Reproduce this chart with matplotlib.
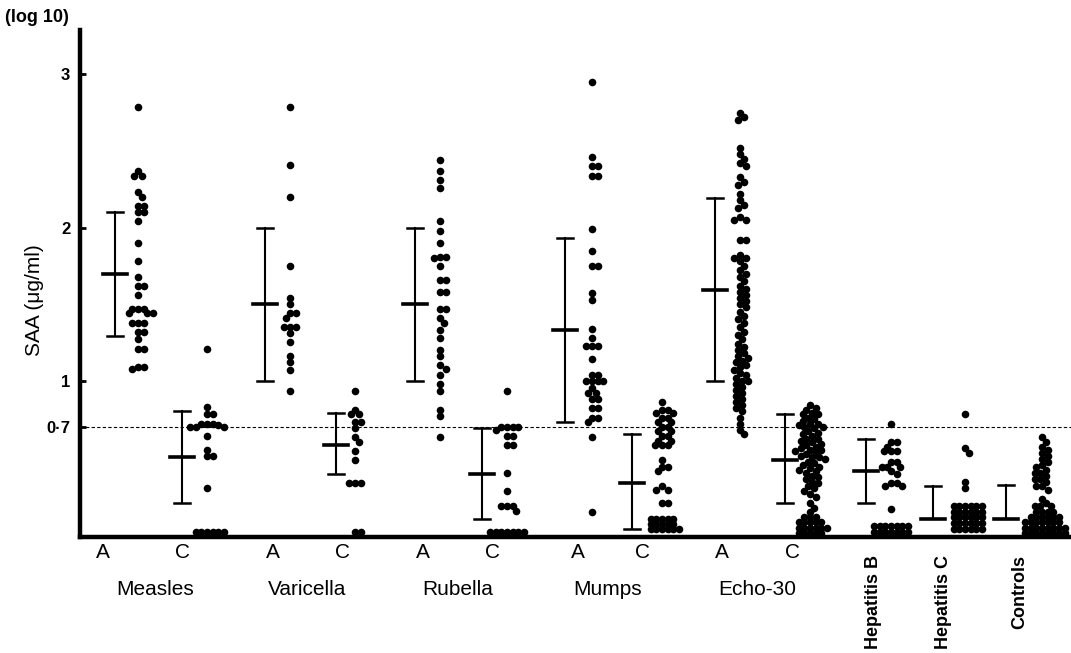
import matplotlib
matplotlib.use("Agg")
import matplotlib.pyplot as plt

# valores log10 de SAA (0.015 = bajo el limite de deteccion)
measles_a = [2.79, 2.37, 2.34, 2.34, 2.23, 2.20, 2.14, 2.14, 2.10, 2.10, 2.04, 1.90, 1.78, 1.68,
             1.62, 1.62, 1.56, 1.47, 1.47, 1.47, 1.44, 1.44, 1.44, 1.38, 1.38, 1.38, 1.32, 1.32,
             1.27, 1.21, 1.21, 1.09, 1.09, 1.08]
measles_c = [1.21, 0.83, 0.78, 0.78, 0.72, 0.72, 0.72, 0.71, 0.70, 0.70, 0.70, 0.64, 0.55, 0.51,
             0.51, 0.30] + [0.015] * 6
varicella_a = [2.79, 2.41, 2.20, 1.75, 1.54, 1.50, 1.44, 1.44, 1.41, 1.35, 1.35, 1.35, 1.31, 1.25,
               1.16, 1.12, 1.07, 0.93]
varicella_c = [0.93, 0.81, 0.78, 0.78, 0.73, 0.73, 0.69, 0.63, 0.60, 0.54, 0.48, 0.33, 0.33, 0.33,
               0.015, 0.015]
rubella_a = [2.44, 2.37, 2.31, 2.26, 2.04, 1.98, 1.90, 1.81, 1.81, 1.80, 1.75, 1.66, 1.66, 1.58,
             1.58, 1.47, 1.47, 1.41, 1.38, 1.33, 1.28, 1.20, 1.16, 1.10, 1.08, 1.04, 0.98, 0.93,
             0.81, 0.77, 0.63]
rubella_c = [0.93, 0.70, 0.70, 0.70, 0.70, 0.68, 0.64, 0.64, 0.58, 0.58, 0.40, 0.28, 0.18, 0.18,
             0.18, 0.15] + [0.015] * 7
mumps_a = [2.95, 2.46, 2.40, 2.40, 2.34, 2.34, 1.99, 1.85, 1.75, 1.75, 1.57, 1.53, 1.34, 1.28,
           1.23, 1.23, 1.23, 1.14, 1.04, 1.04, 1.00, 1.00, 1.00, 1.00, 0.95, 0.92, 0.92, 0.88,
           0.88, 0.82, 0.82, 0.76, 0.76, 0.73, 0.63, 0.14]
mumps_c = [0.86, 0.81, 0.81, 0.79, 0.79, 0.76, 0.76, 0.73, 0.73, 0.70, 0.70, 0.67, 0.67, 0.64,
           0.64, 0.61, 0.61, 0.58, 0.58, 0.58, 0.48, 0.44, 0.44, 0.41, 0.31, 0.29, 0.29, 0.20,
           0.20] + [0.10] * 5 + [0.065] * 5 + [0.03] * 6
echo_a = [2.75, 2.72, 2.70, 2.52, 2.48, 2.45, 2.42, 2.40, 2.33, 2.30, 2.28, 2.22, 2.18, 2.15,
          2.13, 2.07, 2.05, 2.05, 1.92, 1.92, 1.82, 1.80, 1.80, 1.78, 1.75, 1.72, 1.70, 1.68,
          1.65, 1.62, 1.60, 1.58, 1.56, 1.54, 1.52, 1.50, 1.48, 1.45, 1.42, 1.40, 1.38, 1.35,
          1.32, 1.30, 1.27, 1.24, 1.22, 1.20, 1.18, 1.16, 1.15, 1.13, 1.12, 1.10, 1.09, 1.07,
          1.05, 1.04, 1.02, 1.00, 1.00, 0.98, 0.96, 0.94, 0.92, 0.90, 0.88, 0.86, 0.84, 0.82,
          0.80, 0.76, 0.72, 0.68, 0.65]
echo_c = [0.84, 0.82, 0.81, 0.79, 0.78, 0.78, 0.76, 0.75, 0.74, 0.72, 0.72, 0.71, 0.70, 0.70,
          0.69, 0.67, 0.66, 0.65, 0.64, 0.62, 0.62, 0.61, 0.60, 0.59, 0.58, 0.57, 0.56, 0.55,
          0.55, 0.54, 0.53, 0.52, 0.51, 0.50, 0.50, 0.49, 0.47, 0.46, 0.45, 0.44, 0.43, 0.42,
          0.41, 0.40, 0.38, 0.37, 0.36, 0.34, 0.33, 0.31, 0.30, 0.28, 0.26, 0.24, 0.20, 0.17,
          0.145] + [0.11] * 3 + [0.075] * 5 + [0.04] * 6 + [0.005] * 5
hep_b = [0.72, 0.60, 0.60, 0.57, 0.54, 0.54, 0.54, 0.47, 0.47, 0.44, 0.44, 0.44, 0.41, 0.39,
         0.33, 0.33, 0.31, 0.31, 0.16] + [0.05] * 7 + [0.015] * 7
hep_c = [0.78, 0.56, 0.53, 0.34, 0.30] + [0.18] * 6 + [0.145] * 6 + [0.11] * 6 + [0.07] * 6 + [0.035] * 6
controls = [0.63, 0.60, 0.57, 0.55, 0.53, 0.51, 0.49, 0.47, 0.45, 0.44, 0.42, 0.40, 0.40, 0.38,
            0.36, 0.36, 0.34, 0.31, 0.31, 0.29, 0.23, 0.20] + [0.18] * 3 + [0.145] * 4 + \
           [0.11] * 6 + [0.075] * 7 + [0.04] * 8 + [0.005] * 8

grupos = [measles_a, measles_c, varicella_a, varicella_c, rubella_a, rubella_c,
          mumps_a, mumps_c, echo_a, echo_c, hep_b, hep_c, controls]

# media y barras (log10)
medias = [1.70, 0.50, 1.50, 0.58, 1.50, 0.39, 1.33, 0.33, 1.59, 0.48, 0.41, 0.10, 0.10]
sup = [2.10, 0.80, 2.00, 0.79, 2.00, 0.69, 1.93, 0.65, 2.19, 0.78, 0.62, 0.31, 0.32]
inf = [1.29, 0.20, 1.00, 0.39, 1.00, 0.10, 0.73, 0.03, 1.00, 0.20, 0.20, 0.10, 0.10]

virus = ["Measles", "Varicella", "Rubella", "Mumps", "Echo-30"]
otros = ["Hepatitis B", "Hepatitis C", "Controls"]

# posiciones horizontales (en pixeles desde el eje)
x_barra = [35, 102, 185, 256, 335, 402, 485, 552, 635, 705, 786, 853, 926]
x_puntos = [58, 127, 210, 275, 360, 427, 512, 582, 660, 730, 811, 885, 962]
x_A = [23, 193, 343, 498, 642]
x_C = [103, 263, 413, 563, 713]
x_virus = [75, 227, 378, 528, 677]
x_otros = [793, 863, 940]

PX = 153.2  # pixeles por unidad en y
D = 7.5     # diametro del punto en pixeles


def enjambre(vals, d=D):
    # coloca los puntos uno al lado del otro, tocandose apenas
    colocados = []
    offs = [0.0] * len(vals)
    orden = sorted(range(len(vals)), key=lambda i: -vals[i])
    pasos = [0]
    for k in range(1, 80):
        pasos += [k, -k]
    lim = (0.7 * d) ** 2
    for i in orden:
        y = vals[i] * PX
        for k in pasos:
            x = k * d / 4
            if all((x - cx) ** 2 + (y - cy) ** 2 >= lim for cx, cy in colocados):
                break
        colocados.append((x, y))
        offs[i] = x
    return offs


fig = plt.figure(figsize=(10.71, 6.53), dpi=100)
ax = fig.add_axes([80 / 1071, 116 / 653, 991 / 1071, 507 / 653])
ax.set_xlim(0, 991)
ax.set_ylim(-0.02, 3.29)

for vals, xc in zip(grupos, x_puntos):
    offs = enjambre(vals)
    ax.scatter([xc + o for o in offs], vals, s=30, color="black", linewidths=0, zorder=3,
               clip_on=False)

for xb, m, s_, i_ in zip(x_barra, medias, sup, inf):
    ax.plot([xb, xb], [i_, s_], color="black", lw=1.5)
    ax.plot([xb - 8, xb + 8], [s_, s_], color="black", lw=1.8)
    if i_ < m:
        ax.plot([xb - 8, xb + 8], [i_, i_], color="black", lw=1.8)
    ax.plot([xb - 12, xb + 12], [m, m], color="black", lw=2.6)

ax.axhline(0.7, color="black", lw=0.8, dashes=(3, 2))

for s in ["top", "right"]:
    ax.spines[s].set_visible(False)
ax.spines["left"].set_linewidth(3.2)
ax.spines["bottom"].set_linewidth(3.2)
ax.set_xticks([])
ax.set_yticks([0.7, 1, 2, 3])
ax.set_yticklabels(["0·7", "1", "2", "3"])
ax.tick_params(axis="y", direction="in", length=4, width=2, pad=7)
for t in ax.get_yticklabels():
    t.set_fontsize(12)
    t.set_fontweight("bold")
    t.set_family(["Liberation Sans", "DejaVu Sans"])

letra = dict(family=["Liberation Sans", "DejaVu Sans"], fontsize=15)
for x in x_A:
    ax.text(x, -0.118, "A", ha="center", va="center", clip_on=False, **letra)
for x in x_C:
    ax.text(x, -0.118, "C", ha="center", va="center", clip_on=False, **letra)
for x, n in zip(x_virus, virus):
    ax.text(x, -0.366, n, ha="center", va="center", clip_on=False, **letra)
for x, n in zip(x_otros, otros):
    ax.text(x, -0.135, n, ha="center", va="top", rotation=90, fontsize=13, fontweight="bold",
            family=["Liberation Sans", "DejaVu Sans"], clip_on=False)

fig.text(5 / 1071, 1 - 18 / 653, "(log 10)", ha="left", va="center", fontsize=13,
         fontweight="bold", family=["Liberation Sans", "DejaVu Sans"])
fig.text(35 / 1071, 1 - 300 / 653, "SAA (μg/ml)", ha="center", va="center", rotation=90,
         fontsize=15, family=["Liberation Sans", "DejaVu Sans"])

fig.savefig("out.png", dpi=100)
